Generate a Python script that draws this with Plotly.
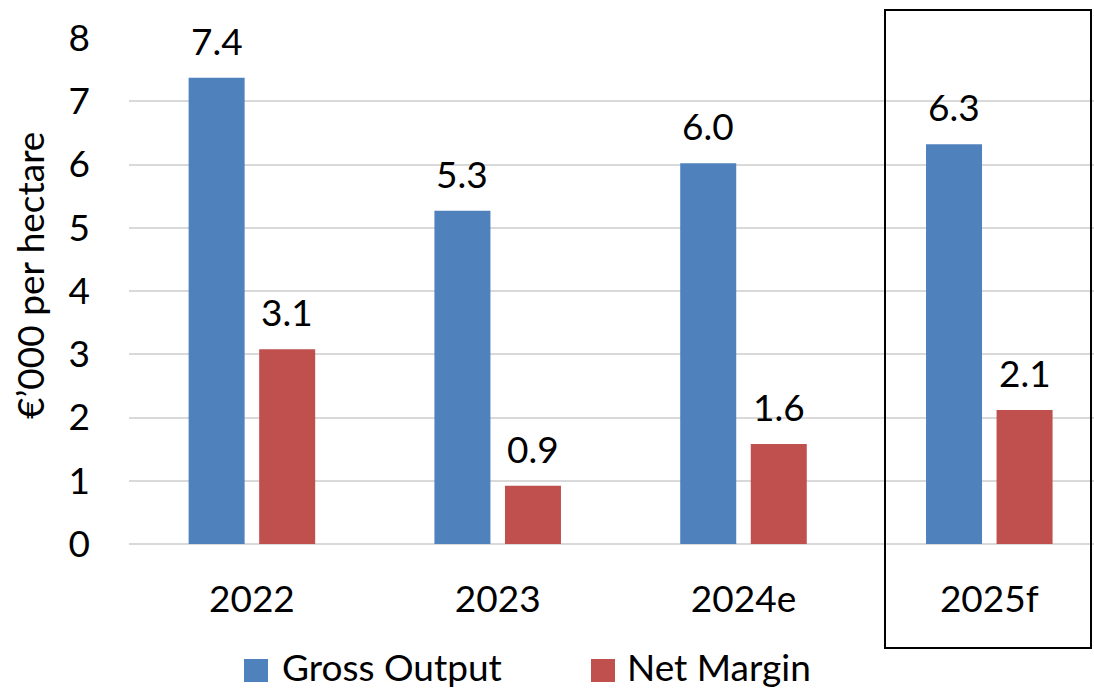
import plotly.graph_objects as go

categories = ["2022", "2023", "2024e", "2025f"]
gross_output = [7.37, 5.27, 6.02, 6.32]
net_margin = [3.08, 0.92, 1.58, 2.12]
y_ticks = [0, 1, 2, 3, 4, 5, 6, 7, 8]

BLUE = "#4F81BD"
RED = "#C0504D"
FONT = "Lato"
FS = 37

W, H = 1094, 690
ML, MR, MT, MB = 129, 0, 38, 146
PW = W - ML - MR
PH = H - MT - MB
CAT_PX = 245.8


def px_x(p):
    return (p - ML) / PW


def px_y(p):
    return (H - MB - p) / PH


fig = go.Figure()
fig.add_trace(go.Bar(x=categories, y=gross_output, name="Gross Output",
                     marker=dict(color=BLUE, line=dict(width=0)), showlegend=False))
fig.add_trace(go.Bar(x=categories, y=net_margin, name="Net Margin",
                     marker=dict(color=RED, line=dict(width=0)), showlegend=False))

annotations = []
slot_px = 70.5
for vals, shift in ((gross_output, -slot_px / 2), (net_margin, slot_px / 2)):
    for i, v in enumerate(vals):
        annotations.append(dict(x=i, y=v, xref="x", yref="y", text=f"{v:.1f}",
                                showarrow=False, xanchor="center", yanchor="bottom",
                                xshift=shift, yshift=13,
                                font=dict(family=FONT, size=FS, color="black")))

# y-axis title
annotations.append(dict(x=px_x(29), y=px_y(276), xref="paper", yref="paper",
                        text="€’000 per hectare", textangle=-90, showarrow=False,
                        xanchor="center", yanchor="middle",
                        font=dict(family=FONT, size=FS, color="black")))
# legend texts
annotations.append(dict(x=px_x(280), y=px_y(666), xref="paper", yref="paper",
                        text="Gross Output", showarrow=False, xanchor="left", yanchor="middle",
                        font=dict(family=FONT, size=FS, color="black")))
annotations.append(dict(x=px_x(625), y=px_y(666), xref="paper", yref="paper",
                        text="Net Margin", showarrow=False, xanchor="left", yanchor="middle",
                        font=dict(family=FONT, size=FS, color="black")))

shapes = [
    dict(type="rect", xref="paper", yref="paper", x0=px_x(885), x1=px_x(1091),
         y0=px_y(648), y1=px_y(10), line=dict(color="black", width=2), fillcolor="rgba(0,0,0,0)"),
    dict(type="rect", xref="paper", yref="paper", x0=px_x(244), x1=px_x(268),
         y0=px_y(682), y1=px_y(659), line=dict(width=0), fillcolor=BLUE),
    dict(type="rect", xref="paper", yref="paper", x0=px_x(591), x1=px_x(615),
         y0=px_y(682), y1=px_y(659), line=dict(width=0), fillcolor=RED),
]

fig.update_layout(
    width=W, height=H,
    margin=dict(l=ML, r=MR, t=MT, b=MB, pad=0),
    paper_bgcolor="white", plot_bgcolor="white",
    barmode="group", bargap=0.426, bargroupgap=0.206,
    font=dict(family=FONT, size=FS, color="black"),
    showlegend=False,
    annotations=annotations,
    shapes=shapes,
)
fig.update_xaxes(type="category", range=[-0.5, -0.5 + PW / CAT_PX], showgrid=False,
                 showline=False, ticks="", ticklabelstandoff=30,
                 tickfont=dict(family=FONT, size=FS, color="black"))
fig.update_yaxes(range=[0, 8], tickvals=y_ticks, showgrid=True, gridcolor="#D9D9D9",
                 gridwidth=2, zeroline=True, zerolinecolor="#D9D9D9", zerolinewidth=2,
                 showline=False, ticks="", ticklabelstandoff=38,
                 tickfont=dict(family=FONT, size=FS, color="black"))

fig.write_html("out.html", config={"displayModeBar": False},
               post_script="document.body.style.margin='0';document.body.style.overflow='hidden';")
